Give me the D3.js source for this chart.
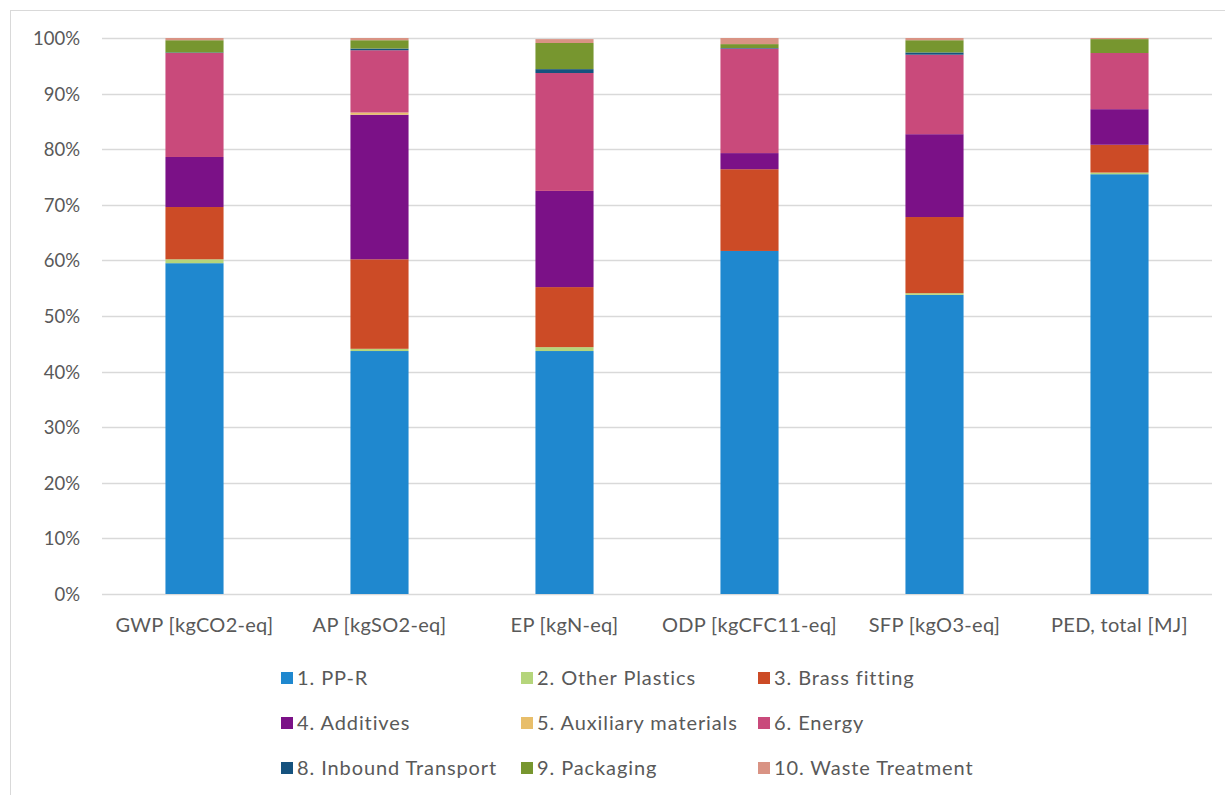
<!DOCTYPE html>
<html>
<head>
<meta charset="utf-8">
<script src="https://cdn.jsdelivr.net/npm/d3@7"></script>
<style>
  html, body { margin: 0; padding: 0; background: #fff; }
  svg { display: block; }
  text { font-family: Lato, "Open Sans", sans-serif; fill: #595959; }
</style>
</head>
<body>
<svg id="chart" width="1225" height="795"></svg>
<script>
const categories = ["GWP [kgCO2-eq]", "AP [kgSO2-eq]", "EP [kgN-eq]", "ODP [kgCFC11-eq]", "SFP [kgO3-eq]", "PED, total [MJ]"];
const seriesNames = ["1. PP-R", "2. Other Plastics", "3. Brass fitting", "4. Additives", "5. Auxiliary materials", "6. Energy", "8. Inbound Transport", "9. Packaging", "10. Waste Treatment"];
const seriesColors = ["#1f88cf", "#b5d57b", "#cc4b26", "#7b1187", "#e8be6a", "#c94a7b", "#15527e", "#77962f", "#d99384"];
// values in % per category, one array per series
const ppr       = [59.5, 43.7, 43.7, 61.7, 53.8, 75.5];
const otherPl   = [0.7, 0.4, 0.7, 0.0, 0.3, 0.3];
const brass     = [9.4, 16.1, 10.8, 14.7, 13.7, 5.0];
const additives = [9.0, 26.0, 17.3, 2.9, 14.9, 6.4];
const auxMat    = [0.0, 0.4, 0.0, 0.0, 0.0, 0.0];
const energy    = [18.7, 11.2, 21.2, 18.8, 14.3, 10.1];
const transport = [0.1, 0.3, 0.7, 0.1, 0.4, 0.0];
const packaging = [2.2, 1.5, 4.7, 0.7, 2.2, 2.5];
const waste     = [0.4, 0.4, 0.7, 1.1, 0.4, 0.2];
const yTicks = [0, 10, 20, 30, 40, 50, 60, 70, 80, 90, 100];

const seriesValues = [ppr, otherPl, brass, additives, auxMat, energy, transport, packaging, waste];
const table = categories.map((c, i) => {
  const row = { cat: c };
  seriesNames.forEach((s, j) => row[s] = seriesValues[j][i]);
  return row;
});

const svg = d3.select("#chart");
// outer chart border
svg.append("rect").attr("x", 10.5).attr("y", 10.5).attr("width", 1300).attr("height", 900)
  .attr("fill", "none").attr("stroke", "#d9d9d9").attr("stroke-width", 1);

const plot = { left: 102, right: 1212, top: 38, bottom: 594 };
const x = d3.scaleBand().domain(categories).range([plot.left, plot.right]).paddingInner(0.686).paddingOuter(0.343);
const y = d3.scaleLinear().domain([0, 100]).range([plot.bottom, plot.top]);

// gridlines
svg.append("g").selectAll("line").data(yTicks).join("line")
  .attr("x1", plot.left).attr("x2", plot.right)
  .attr("y1", d => Math.round(y(d)) + 0.5).attr("y2", d => Math.round(y(d)) + 0.5)
  .attr("stroke", "#d9d9d9").attr("stroke-width", 1.3);

// y axis labels
const yAxis = d3.axisLeft(y).tickValues(yTicks).tickFormat(d => d + "%").tickSize(0).tickPadding(0);
const yg = svg.append("g").attr("transform", `translate(80,0)`).call(yAxis);
yg.select(".domain").remove();
yg.selectAll("text").attr("font-size", 18.5).attr("font-family", "Lato, sans-serif").attr("fill", "#595959").attr("dy", "0.35em");

// stacked bars
const stack = d3.stack().keys(seriesNames)(table);
const color = d3.scaleOrdinal().domain(seriesNames).range(seriesColors);
svg.append("g").selectAll("g").data(stack).join("g")
  .attr("fill", d => color(d.key))
  .selectAll("rect").data(d => d).join("rect")
  .attr("x", d => x(d.data.cat))
  .attr("width", x.bandwidth())
  .attr("y", d => y(d[1]))
  .attr("height", d => Math.max(0, y(d[0]) - y(d[1])));

// x axis labels
const xAxis = d3.axisBottom(x).tickSize(0).tickPadding(0);
const xg = svg.append("g").attr("transform", `translate(0,${plot.bottom + 38})`).call(xAxis);
xg.select(".domain").remove();
xg.selectAll("text").attr("font-size", 20).attr("font-family", "Lato, sans-serif")
  .attr("letter-spacing", 0.3).attr("fill", "#595959").attr("dy", 0);

// legend
const legCols = [281, 521, 758];
const legRows = [678, 723, 768];
const leg = svg.append("g").selectAll("g").data(seriesNames).join("g")
  .attr("transform", (d, i) => `translate(${legCols[i % 3]},${legRows[Math.floor(i / 3)]})`);
leg.append("rect").attr("x", 0).attr("y", -6).attr("width", 12).attr("height", 12).attr("fill", d => color(d));
leg.append("text").attr("x", 16).attr("y", 0).attr("dy", "0.35em")
  .attr("font-size", 20).attr("letter-spacing", 0.9).text(d => d);
</script>
</body>
</html>
